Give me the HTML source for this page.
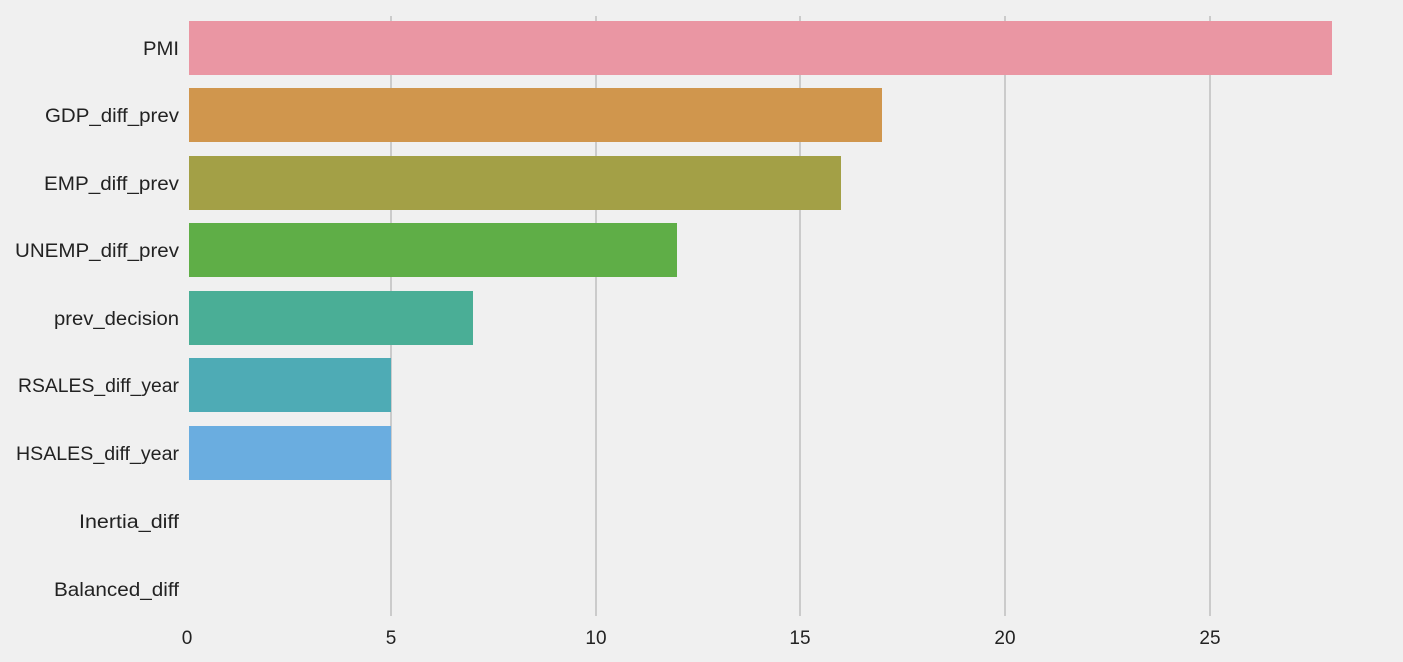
<!DOCTYPE html>
<html><head><meta charset="utf-8"><style>
html,body{margin:0;padding:0;background:#f0f0f0;overflow:hidden;}
svg{display:block;}
svg text{font-family:"Liberation Sans","Noto Sans CJK KR",sans-serif;font-size:19px;fill:#222;}
</style></head><body>
<svg width="1403" height="662" viewBox="0 0 1403 662" xmlns="http://www.w3.org/2000/svg">
<rect width="1403" height="662" fill="#f0f0f0"/>
<g stroke="#cbcbcb" stroke-width="2">
<line x1="391" y1="16" x2="391" y2="616"/>
<line x1="596" y1="16" x2="596" y2="616"/>
<line x1="800" y1="16" x2="800" y2="616"/>
<line x1="1005" y1="16" x2="1005" y2="616"/>
<line x1="1210" y1="16" x2="1210" y2="616"/>
</g>
<rect x="189" y="21" width="1143" height="54" fill="#ea96a3"/>
<rect x="189" y="88" width="693" height="54" fill="#d0964d"/>
<rect x="189" y="156" width="652" height="54" fill="#a3a046"/>
<rect x="189" y="223" width="488" height="54" fill="#5fae47"/>
<rect x="189" y="291" width="284" height="54" fill="#4aae96"/>
<rect x="189" y="358" width="202" height="54" fill="#4eabb5"/>
<rect x="189" y="426" width="202" height="54" fill="#6aade0"/>
<g lengthAdjust="spacingAndGlyphs">
<text x="143" y="55" textLength="36" lengthAdjust="spacingAndGlyphs">PMI</text>
<text x="45" y="122" textLength="134" lengthAdjust="spacingAndGlyphs">GDP_diff_prev</text>
<text x="44" y="190" textLength="135" lengthAdjust="spacingAndGlyphs">EMP_diff_prev</text>
<text x="15" y="257" textLength="164" lengthAdjust="spacingAndGlyphs">UNEMP_diff_prev</text>
<text x="54" y="325" textLength="125" lengthAdjust="spacingAndGlyphs">prev_decision</text>
<text x="18" y="392" textLength="161" lengthAdjust="spacingAndGlyphs">RSALES_diff_year</text>
<text x="16" y="460" textLength="163" lengthAdjust="spacingAndGlyphs">HSALES_diff_year</text>
<text x="79" y="528" textLength="100" lengthAdjust="spacingAndGlyphs">Inertia_diff</text>
<text x="54" y="596" textLength="125" lengthAdjust="spacingAndGlyphs">Balanced_diff</text>
</g>
<g text-anchor="middle">
<text x="187" y="644">0</text>
<text x="391" y="644">5</text>
<text x="596" y="644">10</text>
<text x="800" y="644">15</text>
<text x="1005" y="644">20</text>
<text x="1210" y="644">25</text>
</g>
</svg>
</body></html>
